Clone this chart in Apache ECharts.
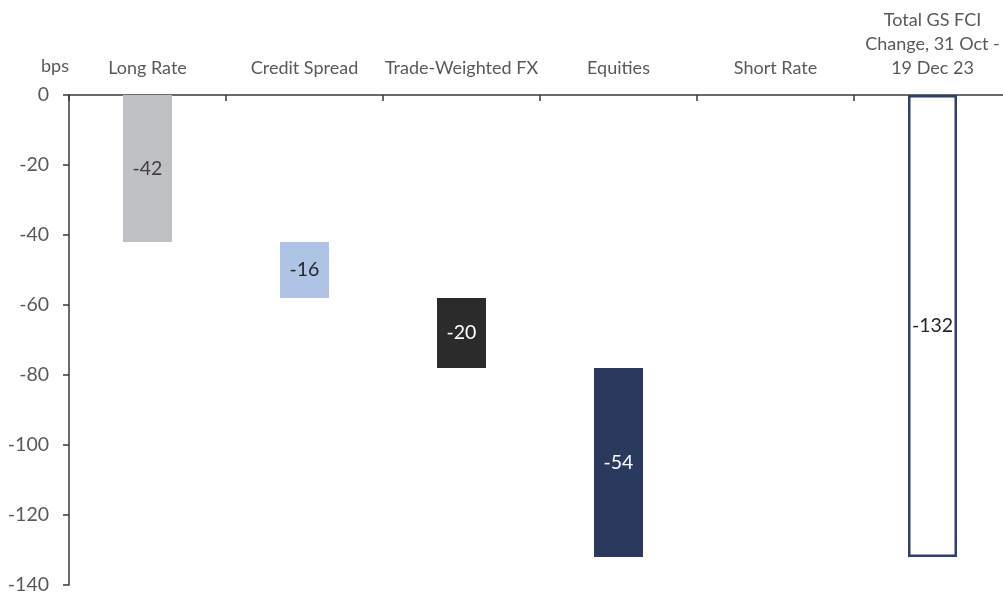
<!DOCTYPE html>
<html>
<head>
<meta charset="utf-8">
<script src="https://cdn.jsdelivr.net/npm/echarts@6/dist/echarts.min.js"></script>
<style>html,body{margin:0;padding:0;background:#fff;overflow:hidden;width:1003px;height:595px;}#c{width:1011px;height:595px;}</style>
</head>
<body>
<div id="c"></div>
<script>
const categories = ['Long Rate', 'Credit Spread', 'Trade-Weighted FX', 'Equities', 'Short Rate', 'Total GS FCI\nChange, 31 Oct -\n19 Dec 23'];
const changes = [-42, -16, -20, -54, 0];
const total = -132;
const yTicks = [0, -20, -40, -60, -80, -100, -120, -140];
const barColors = ['#BFC0C4', '#AEC3E6', '#2B2B2B', '#2A3A5E', '#2A3A5E'];
const labelColors = ['#404040', '#262626', '#FFFFFF', '#FFFFFF', '#FFFFFF'];

// running base for waterfall
const base = [];
let run = 0;
changes.forEach(v => { base.push(run); run += v; });
base.push(0);

const deltaData = changes.map((v, i) => ({
  value: v,
  itemStyle: { color: barColors[i] },
  label: { color: labelColors[i], show: v !== 0 }
}));
deltaData.push({
  value: total,
  itemStyle: { color: '#FFFFFF', borderColor: '#2C3F6E', borderWidth: 2.5 },
  label: { color: '#262626', show: true }
});

const FONT = 'Lato, "Open Sans", sans-serif';
const chart = echarts.init(document.getElementById('c'), null, { renderer: 'canvas' });
chart.setOption({
  animation: false,
  backgroundColor: '#fff',
  grid: { left: 69, top: 95, width: 942, height: 490, containLabel: false },
  xAxis: {
    type: 'category',
    position: 'top',
    data: categories,
    axisLine: { lineStyle: { color: '#3A3A3A', width: 1.5 } },
    axisTick: { show: true, inside: true, length: 6, lineStyle: { color: '#3A3A3A', width: 1.5 } },
    axisLabel: { color: '#595959', fontSize: 18, fontFamily: FONT, margin: 15, lineHeight: 24, interval: 0 },
    splitLine: { show: false }
  },
  yAxis: {
    type: 'value',
    min: -140,
    max: 0,
    interval: 20,
    name: 'bps',
    nameLocation: 'end',
    nameGap: 20,
    nameTextStyle: { color: '#595959', fontSize: 18, fontFamily: FONT, align: 'right' },
    axisLine: { show: true, lineStyle: { color: '#3A3A3A', width: 1.5 } },
    axisTick: { show: true, length: 6, lineStyle: { color: '#3A3A3A', width: 1.5 } },
    axisLabel: { color: '#595959', fontSize: 19.5, fontFamily: FONT, margin: 20,
      formatter: v => yTicks.includes(v) ? String(v) : '' },
    splitLine: { show: false }
  },
  series: [
    {
      type: 'bar',
      stack: 'w',
      data: base,
      barWidth: 49,
      itemStyle: { color: 'transparent' },
      silent: true
    },
    {
      type: 'bar',
      stack: 'w',
      data: deltaData,
      barWidth: 49,
      label: { show: true, position: 'inside', fontSize: 19.5, fontFamily: FONT }
    }
  ]
});
</script>
</body>
</html>
